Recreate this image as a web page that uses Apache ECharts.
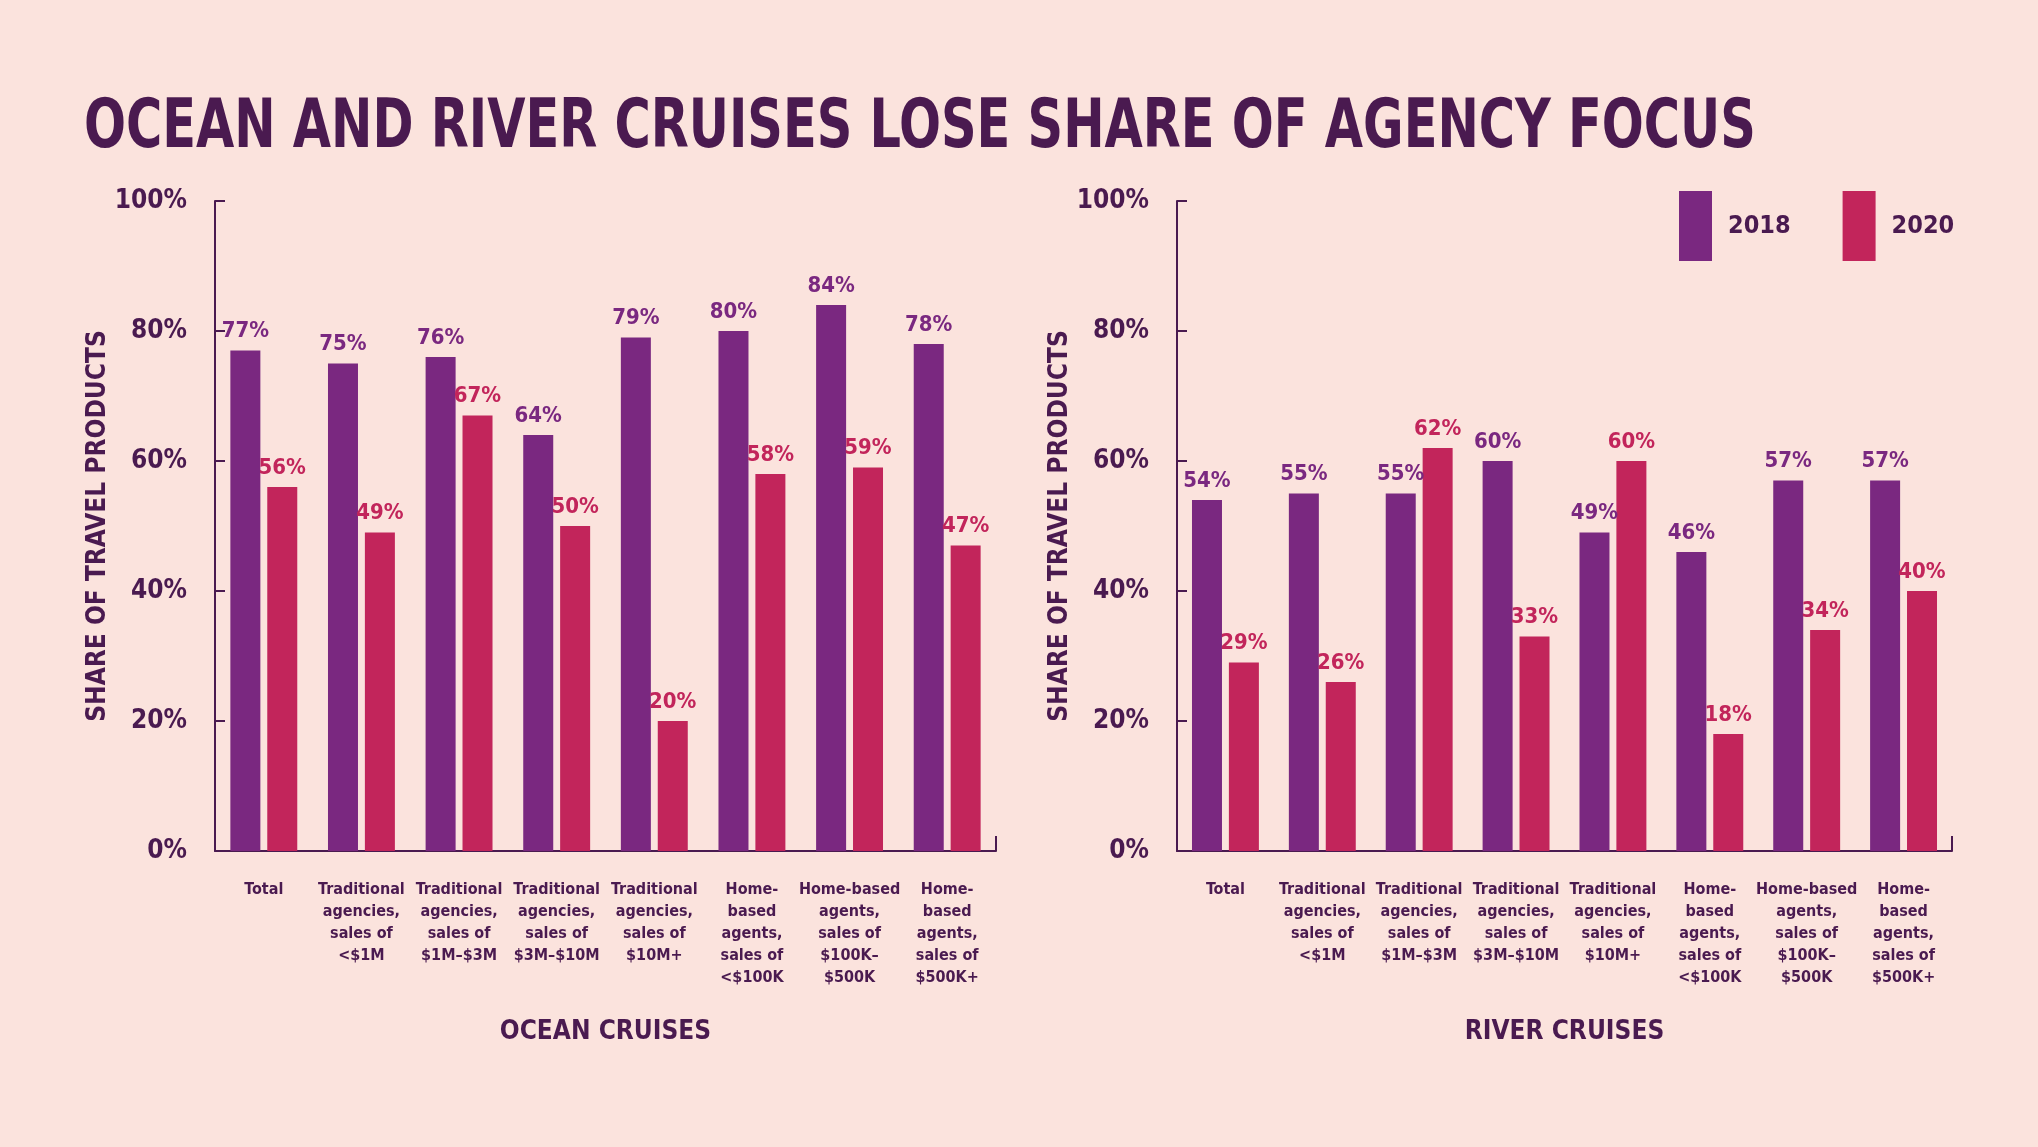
<!DOCTYPE html>
<html>
<head>
<meta charset="utf-8">
<title>Ocean and river cruises</title>
<script src="https://cdn.jsdelivr.net/npm/echarts@6/dist/echarts.min.js"></script>
<style>
  html, body { margin: 0; padding: 0; background: #fbe3dd; }
  #chart { width: 2038px; height: 1147px; }
</style>
</head>
<body>
<div id="chart"></div>
<script>
const categories = [
  'Total',
  'Traditional\nagencies,\nsales of\n<$1M',
  'Traditional\nagencies,\nsales of\n$1M–$3M',
  'Traditional\nagencies,\nsales of\n$3M–$10M',
  'Traditional\nagencies,\nsales of\n$10M+',
  'Home-\nbased\nagents,\nsales of\n<$100K',
  'Home-based\nagents,\nsales of\n$100K–\n$500K',
  'Home-\nbased\nagents,\nsales of\n$500K+'
];
const ocean2018 = [77, 75, 76, 64, 79, 80, 84, 78];
const ocean2020 = [56, 49, 67, 50, 20, 58, 59, 47];
const river2018 = [54, 55, 55, 60, 49, 46, 57, 57];
const river2020 = [29, 26, 62, 33, 60, 18, 34, 40];
const yTicks = [0, 20, 40, 60, 80, 100];

const FONT = '"Liberation Sans Narrow", "DejaVu Sans Condensed", "Roboto", sans-serif';
const DARK = '#4a1a50';
const PURPLE = '#7a2880';
const CRIMSON = '#c2255b';

const chart = echarts.init(document.getElementById('chart'));

const xAxisFor = (gridIndex, name) => ({
  type: 'category',
  gridIndex,
  data: categories,
  name,
  nameLocation: 'middle',
  nameGap: 181,
  nameTextStyle: { fontFamily: FONT, fontWeight: 'bold', fontSize: 26, color: DARK, verticalAlign: 'middle' },
  axisLine: { lineStyle: { color: DARK, width: 2 } },
  // only the closing tick at the right end of the axis
  axisTick: { show: true, inside: true, length: 15, interval: (i) => i === categories.length - 1, lineStyle: { color: DARK, width: 2 } },
  axisLabel: {
    interval: 0,
    margin: 28,
    fontFamily: FONT,
    fontWeight: 'bold',
    fontSize: 16,
    lineHeight: 22,
    color: DARK,
    verticalAlign: 'top'
  }
});

const yAxisFor = (gridIndex) => ({
  type: 'value',
  gridIndex,
  min: 0,
  max: 100,
  interval: 20,
  name: 'SHARE OF TRAVEL PRODUCTS',
  nameLocation: 'middle',
  nameGap: 106,
  nameTextStyle: { fontFamily: FONT, fontWeight: 'bold', fontSize: 26, color: DARK, verticalAlign: 'middle' },
  axisLine: { show: true, lineStyle: { color: DARK, width: 2 } },
  axisTick: { show: true, inside: true, length: 10, lineStyle: { color: DARK, width: 2 } },
  splitLine: { show: false },
  axisLabel: {
    margin: 28,
    fontFamily: FONT,
    fontWeight: 'bold',
    fontSize: 26,
    color: DARK,
    formatter: (v) => yTicks.includes(v) ? v + '%' : ''
  }
});

const barFor = (name, data, xi, color) => ({
  name,
  type: 'bar',
  xAxisIndex: xi,
  yAxisIndex: xi,
  data,
  barWidth: 30,
  barGap: '23%',
  itemStyle: { color },
  label: {
    show: true,
    position: 'top',
    distance: 8,
    formatter: '{c}%',
    fontFamily: FONT,
    fontWeight: 'bold',
    fontSize: 22,
    color
  }
});

chart.setOption({
  backgroundColor: '#fbe3dd',
  animation: false,
  graphic: [{
    type: 'text',
    x: 84,
    y: 96,
    scaleX: 0.82,
    style: {
      text: 'OCEAN AND RIVER CRUISES LOSE SHARE OF AGENCY FOCUS',
      fontFamily: FONT,
      fontWeight: 'bold',
      fontSize: 67,
      fill: DARK,
      verticalAlign: 'top'
    }
  }],
  legend: {
    data: ['2018', '2020'],
    left: 1679,
    top: 191,
    padding: 0,
    itemWidth: 33,
    itemHeight: 70,
    itemGap: 52,
    icon: 'rect',
    textStyle: { fontFamily: FONT, fontWeight: 'bold', fontSize: 25, color: DARK, padding: [0, 0, 0, 11] }
  },
  grid: [
    { left: 215, right: 1042, top: 201, bottom: 296 },
    { left: 1177, right: 86, top: 201, bottom: 296 }
  ],
  xAxis: [xAxisFor(0, 'OCEAN CRUISES'), xAxisFor(1, 'RIVER CRUISES')],
  yAxis: [yAxisFor(0), yAxisFor(1)],
  series: [
    barFor('2018', ocean2018, 0, PURPLE),
    barFor('2020', ocean2020, 0, CRIMSON),
    barFor('2018', river2018, 1, PURPLE),
    barFor('2020', river2020, 1, CRIMSON)
  ]
});
</script>
</body>
</html>
